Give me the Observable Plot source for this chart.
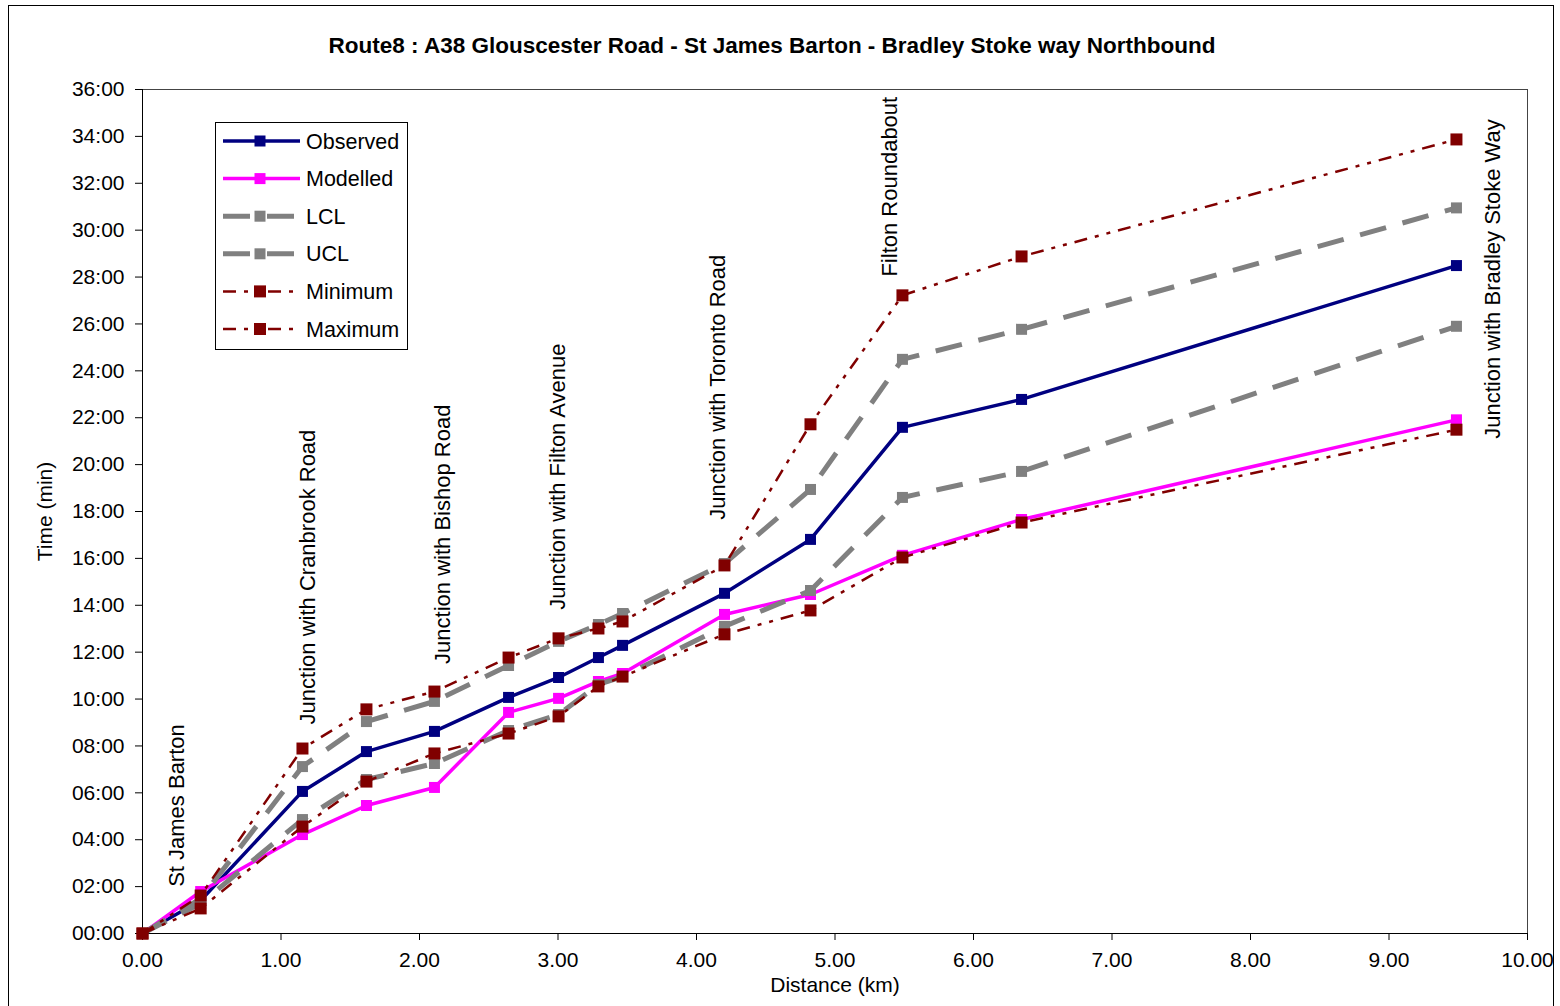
<!DOCTYPE html>
<html>
<head>
<meta charset="utf-8">
<script src="https://cdn.jsdelivr.net/npm/d3@7"></script>
<script src="https://cdn.jsdelivr.net/npm/@observablehq/plot@0.6"></script>
<style>
  html, body { margin: 0; padding: 0; background: #fff; }
  #wrap { position: relative; width: 1560px; height: 1006px; overflow: hidden; font-family: 'Liberation Sans', Arial, sans-serif; }
  #border { position: absolute; left: 8px; top: 5px; width: 1546px; height: 1010px; border: 1px solid #000; box-sizing: border-box; }
  #title { position: absolute; left: 0; top: 33px; width: 1544px; text-align: center; font-size: 22.5px; font-weight: bold; line-height: 26px; color: #000; }
  #chart { position: absolute; left: 0; top: 0; }
  #legend { position: absolute; left: 0; top: 0; }
</style>
</head>
<body>
<div id="wrap">
  <div id="border"></div>
  <div id="chart"></div>
  <div id="title"></div>
  <svg id="legend" width="1560" height="400"></svg>
</div>
<script>
// ---- data ----
const titleText = "Route8 : A38 Glouscester Road - St James Barton - Bradley Stoke way Northbound";
const distance = [0, 0.42, 1.155, 1.617, 2.108, 2.643, 3.004, 3.292, 3.466, 4.202, 4.823, 5.487, 6.347, 9.487];
const observed = [0, 1.41, 6.06, 7.76, 8.62, 10.07, 10.92, 11.77, 12.29, 14.51, 16.81, 21.59, 22.78, 28.49];
const modelled = [0, 1.79, 4.22, 5.46, 6.23, 9.43, 10.03, 10.75, 11.09, 13.61, 14.46, 16.13, 17.66, 21.91];
const lcl      = [0, 1.28, 4.86, 6.57, 7.25, 8.66, 9.34, 10.62, 10.96, 13.10, 14.63, 18.60, 19.71, 25.90];
const ucl      = [0, 1.49, 7.12, 9.04, 9.90, 11.43, 12.46, 13.18, 13.65, 15.78, 18.94, 24.49, 25.77, 30.95];
const minimum  = [0, 1.07, 4.56, 6.48, 7.68, 8.53, 9.26, 10.54, 10.96, 12.76, 13.78, 16.04, 17.53, 21.49];
const maximum  = [0, 1.62, 7.89, 9.56, 10.32, 11.77, 12.59, 13.01, 13.31, 15.70, 21.72, 27.22, 28.88, 33.87];
const seriesNames = ["Observed", "Modelled", "LCL", "UCL", "Minimum", "Maximum"];
const seriesValues = [observed, modelled, lcl, ucl, minimum, maximum];
const xTicks = [0, 1, 2, 3, 4, 5, 6, 7, 8, 9, 10];
const yTicks = [0, 2, 4, 6, 8, 10, 12, 14, 16, 18, 20, 22, 24, 26, 28, 30, 32, 34, 36];
const locationLabels = ["St James Barton", "Junction with Cranbrook Road", "Junction with Bishop Road", "Junction with Filton Avenue", "Junction with Toronto Road", "Filton Roundabout", "Junction with Bradley Stoke Way"];
const locationDist = [0.247, 1.193, 2.168, 3.0, 4.154, 5.40, 9.749];
const locationTime = [1.99, 8.92, 11.50, 13.81, 17.65, 28.02, 21.10];

// ---- styles ----
const styles = {
  Observed: {stroke: "#000080", width: 3.5, dash: null, side: 11},
  Modelled: {stroke: "#FF00FF", width: 3.5, dash: null, side: 11},
  LCL:      {stroke: "#808080", width: 5, dash: "27,17", side: 11},
  UCL:      {stroke: "#808080", width: 5, dash: "27,17", side: 11},
  Minimum:  {stroke: "#800000", width: 2.5, dash: "13,8,4,8,4,8", side: 12},
  Maximum:  {stroke: "#800000", width: 2.5, dash: "13,8,4,8,4,8", side: 12}
};

const table = [];
seriesNames.forEach((s, k) => distance.forEach((d, i) => table.push({series: s, distance: d, time: seriesValues[k][i]})));
const annotations = locationLabels.map((t, i) => ({text: t, distance: locationDist[i], time: locationTime[i]}));

const fmtTime = m => String(m).padStart(2, "0") + ":00";

const seriesMarks = seriesNames.flatMap(s => {
  const st = styles[s];
  const rows = table.filter(d => d.series === s);
  return [
    Plot.line(rows, {x: "distance", y: "time", stroke: st.stroke, strokeWidth: st.width, strokeDasharray: st.dash, strokeLinejoin: "miter", strokeLinecap: "butt"}),
    Plot.dot(rows, {x: "distance", y: "time", symbol: "square", r: st.side / Math.sqrt(Math.PI), fill: st.stroke, stroke: "none"})
  ];
});

const chart = Plot.plot({
  width: 1560,
  height: 1006,
  marginLeft: 142,
  marginRight: 33,
  marginTop: 89,
  marginBottom: 73,
  style: {fontFamily: "'Liberation Sans', Arial, sans-serif", fontSize: "21px", background: "transparent", color: "#000"},
  x: {domain: [0, 10]},
  y: {domain: [0, 36]},
  marks: [
    Plot.frame({stroke: "#444", strokeWidth: 1}),
    Plot.axisX({ticks: xTicks, tickFormat: d3.format(".2f"), tickSize: 7, tickPadding: 12, label: "Distance (km)", labelAnchor: "center", labelArrow: "none", labelOffset: 58}),
    Plot.axisY({ticks: yTicks, tickFormat: fmtTime, tickSize: 7, tickPadding: 11, label: "Time (min)", labelAnchor: "center", labelArrow: "none", labelOffset: 105}),
    Plot.ruleY([0], {stroke: "#000"}),
    Plot.ruleX([0], {stroke: "#000"}),
    ...seriesMarks,
    Plot.text(annotations, {x: "distance", y: "time", text: "text", rotate: -90, textAnchor: "start", lineAnchor: "middle", fontSize: 22, fill: "#000"})
  ]
});
document.getElementById("chart").appendChild(chart);
document.getElementById("title").textContent = titleText;

// ---- legend ----
const lg = d3.select("#legend");
const lx = 215, ly = 122, lw = 192, lh = 227, rowGap = 37.6, firstRow = 141;
lg.append("rect").attr("x", lx + 0.5).attr("y", ly + 0.5).attr("width", lw).attr("height", lh)
  .attr("fill", "#fff").attr("stroke", "#000").attr("stroke-width", 1);
seriesNames.forEach((s, i) => {
  const st = styles[s];
  const y = firstRow + i * rowGap;
  const gray = s === "LCL" || s === "UCL";
  lg.append("line").attr("x1", 223).attr("x2", gray ? 296 : 300).attr("y1", y).attr("y2", y)
    .attr("stroke", st.stroke).attr("stroke-width", st.width)
    .attr("stroke-dasharray", st.dash);
  lg.append("rect").attr("x", 260 - st.side / 2).attr("y", y - st.side / 2).attr("width", st.side).attr("height", st.side).attr("fill", st.stroke);
  lg.append("text").attr("x", 306).attr("y", y).attr("dy", "0.35em").attr("font-size", 21.5)
    .attr("font-family", "'Liberation Sans', Arial, sans-serif").text(s);
});
</script>
</body>
</html>
